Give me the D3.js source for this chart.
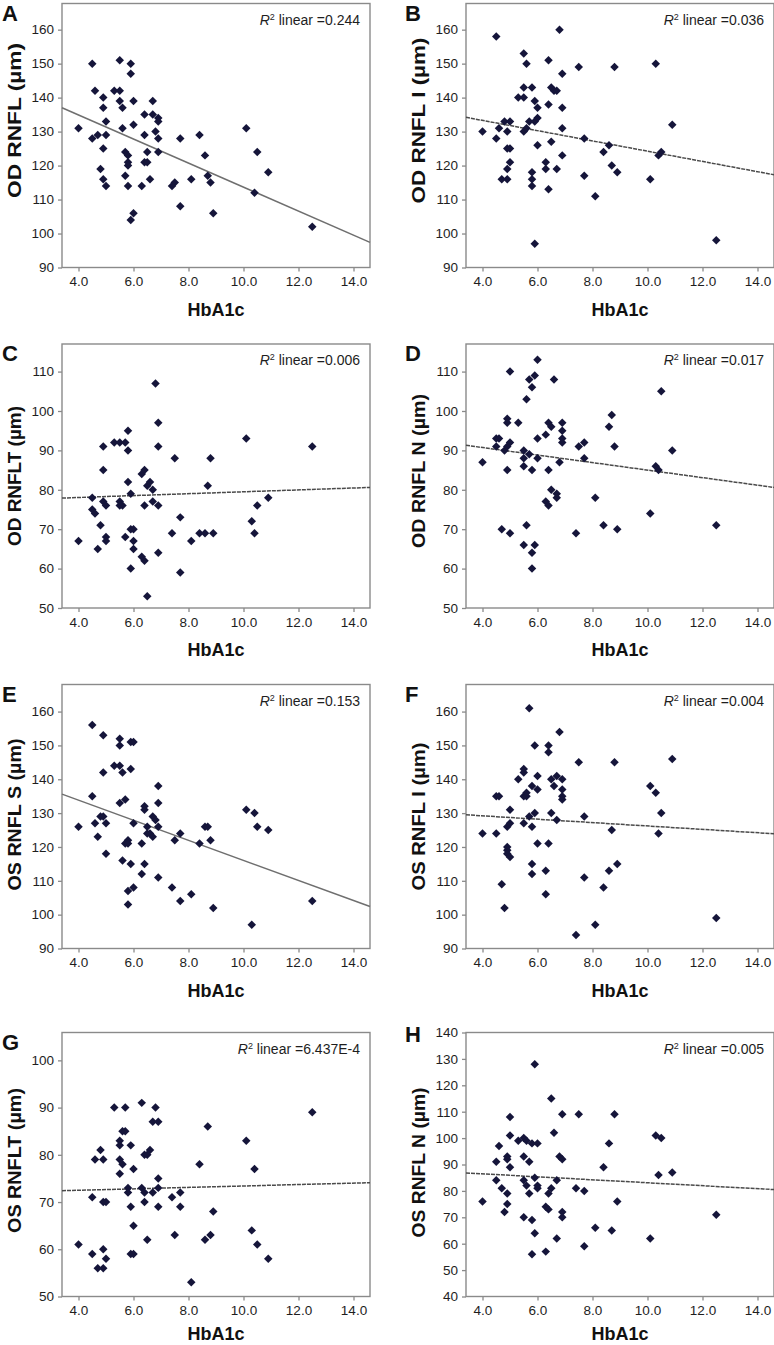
<!DOCTYPE html>
<html>
<head>
<meta charset="utf-8">
<script src="https://cdn.jsdelivr.net/npm/d3@7"></script>
<style>
  body { margin: 0; background: #fff; }
  svg { display: block; font-family: "Liberation Sans", Arial, sans-serif; }
</style>
</head>
<body>
<script>
// HbA1c vs RNFL thickness, one [HbA1c, thickness] pair per eye
const odRnfl = [[4.0,131],[4.5,150],[4.5,128],[4.6,142],[4.7,129],[4.8,119],[4.9,140],[4.9,137],[4.9,125],[4.9,116],[5.0,133],[5.0,129],[5.0,114],[5.3,142],[5.5,151],[5.5,142],[5.5,139],[5.6,137],[5.6,131],[5.7,124],[5.7,117],[5.8,123],[5.8,121],[5.8,120],[5.8,114],[5.9,150],[5.9,147],[5.9,104],[6.0,139],[6.0,132],[6.0,106],[6.3,114],[6.4,135],[6.4,129],[6.4,121],[6.5,121],[6.5,124],[6.6,116],[6.7,139],[6.7,135],[6.8,130],[6.9,134],[6.9,133],[6.9,128],[6.9,124],[7.4,114],[7.5,115],[7.7,128],[7.7,108],[8.1,116],[8.4,129],[8.6,123],[8.7,117],[8.8,115],[8.9,106],[10.1,131],[10.4,112],[10.5,124],[10.9,118],[12.5,102]];
const odRnflI = [[4.0,130],[4.5,158],[4.5,128],[4.6,131],[4.7,116],[4.8,133],[4.9,130],[4.9,125],[4.9,119],[4.9,116],[5.0,133],[5.0,125],[5.0,121],[5.3,140],[5.5,153],[5.5,143],[5.5,140],[5.5,130],[5.6,150],[5.6,131],[5.7,133],[5.8,143],[5.8,118],[5.8,116],[5.8,114],[5.9,139],[5.9,133],[5.9,97],[6.0,137],[6.0,134],[6.0,126],[6.3,121],[6.3,119],[6.4,151],[6.4,138],[6.4,113],[6.5,127],[6.5,143],[6.6,142],[6.7,142],[6.7,119],[6.8,160],[6.9,147],[6.9,137],[6.9,131],[6.9,123],[7.5,149],[7.7,128],[7.7,117],[8.1,111],[8.4,124],[8.6,126],[8.7,120],[8.8,149],[8.9,118],[10.1,116],[10.3,150],[10.4,123],[10.5,124],[10.9,132],[12.5,98]];
const odRnflT = [[4.0,67],[4.5,78],[4.5,75],[4.6,74],[4.7,65],[4.8,71],[4.9,91],[4.9,85],[4.9,77],[5.0,76],[5.0,68],[5.0,67],[5.3,92],[5.5,92],[5.7,92],[5.5,77],[5.6,76],[5.5,76],[5.7,68],[5.8,95],[5.8,90],[5.8,82],[5.9,79],[5.9,70],[5.9,60],[6.0,70],[6.0,67],[6.0,65],[6.3,84],[6.3,63],[6.4,85],[6.4,76],[6.4,62],[6.5,81],[6.5,53],[6.6,82],[6.7,80],[6.7,77],[6.8,107],[6.9,97],[6.9,91],[6.9,76],[6.9,64],[7.4,69],[7.5,88],[7.7,73],[7.7,59],[8.1,67],[8.4,69],[8.6,69],[8.7,81],[8.8,88],[8.9,69],[10.1,93],[10.3,72],[10.4,69],[10.5,76],[10.9,78],[12.5,91]];
const odRnflN = [[4.0,87],[4.5,93],[4.6,93],[4.5,91],[4.7,70],[4.8,90],[4.9,98],[4.9,97],[4.9,91],[4.9,85],[5.0,110],[5.0,92],[5.0,69],[5.3,97],[5.5,90],[5.5,88],[5.5,86],[5.5,66],[5.6,103],[5.6,71],[5.7,108],[5.7,89],[5.8,106],[5.8,85],[5.8,64],[5.8,60],[5.9,109],[5.9,66],[6.0,113],[6.0,93],[6.0,88],[6.3,94],[6.3,77],[6.4,97],[6.4,85],[6.4,76],[6.5,96],[6.5,80],[6.6,108],[6.7,79],[6.7,78],[6.8,87],[6.9,97],[6.9,95],[6.9,93],[6.9,92],[7.4,69],[7.5,91],[7.7,92],[7.7,88],[8.1,78],[8.4,71],[8.6,96],[8.7,99],[8.8,91],[8.9,70],[10.1,74],[10.3,86],[10.4,85],[10.5,105],[10.9,90],[12.5,71]];
const osRnflS = [[4.0,126],[4.5,156],[4.5,135],[4.6,127],[4.7,123],[4.8,129],[4.9,129],[4.9,153],[4.9,142],[5.0,127],[5.0,118],[5.3,144],[5.5,152],[5.5,150],[5.5,144],[5.5,133],[5.6,142],[5.6,116],[5.7,134],[5.7,121],[5.8,122],[5.8,121],[5.8,107],[5.8,103],[5.9,151],[5.9,143],[5.9,115],[6.0,151],[6.0,127],[6.0,108],[6.3,121],[6.3,112],[6.4,132],[6.4,131],[6.4,115],[6.5,126],[6.5,124],[6.6,124],[6.7,129],[6.7,123],[6.8,128],[6.9,138],[6.9,133],[6.9,126],[6.9,111],[7.4,108],[7.5,122],[7.7,124],[7.7,104],[8.1,106],[8.4,121],[8.6,126],[8.7,126],[8.8,122],[8.9,102],[10.1,131],[10.3,97],[10.4,130],[10.5,126],[10.9,125],[12.5,104]];
const osRnflI = [[4.0,124],[4.5,135],[4.6,135],[4.5,124],[4.7,109],[4.8,102],[4.9,120],[4.9,119],[4.9,118],[4.9,126],[5.0,131],[5.0,127],[5.0,117],[5.3,140],[5.5,143],[5.5,142],[5.5,135],[5.5,127],[5.6,136],[5.6,135],[5.7,161],[5.7,129],[5.8,138],[5.8,126],[5.8,115],[5.8,112],[5.9,150],[5.9,130],[6.0,141],[6.0,137],[6.0,121],[6.3,113],[6.3,106],[6.4,150],[6.4,148],[6.4,121],[6.5,140],[6.5,130],[6.6,138],[6.7,141],[6.7,128],[6.8,154],[6.9,140],[6.9,137],[6.9,135],[6.9,134],[7.4,94],[7.5,145],[7.7,129],[7.7,111],[8.1,97],[8.4,108],[8.6,113],[8.7,125],[8.8,145],[8.9,115],[10.1,138],[10.3,136],[10.4,124],[10.5,130],[10.9,146],[12.5,99]];
const osRnflT = [[4.0,61],[4.5,59],[4.5,71],[4.6,79],[4.7,56],[4.8,81],[4.9,79],[4.9,70],[4.9,60],[4.9,56],[5.0,70],[5.0,58],[5.3,90],[5.5,83],[5.5,82],[5.5,79],[5.5,76],[5.6,78],[5.6,85],[5.7,85],[5.7,90],[5.8,73],[5.8,72],[5.9,82],[5.9,69],[5.9,59],[6.0,59],[6.0,77],[6.0,65],[6.3,91],[6.3,73],[6.4,72],[6.4,80],[6.4,70],[6.5,80],[6.5,62],[6.6,81],[6.7,87],[6.7,72],[6.8,90],[6.9,87],[6.9,75],[6.9,73],[6.9,69],[7.4,71],[7.5,63],[7.7,72],[7.7,69],[8.1,53],[8.4,78],[8.6,62],[8.7,86],[8.8,63],[8.9,68],[10.1,83],[10.3,64],[10.4,77],[10.5,61],[10.9,58],[12.5,89]];
const osRnflN = [[4.0,76],[4.5,91],[4.5,84],[4.6,97],[4.7,81],[4.8,72],[4.9,93],[4.9,92],[4.9,79],[4.9,75],[5.0,108],[5.0,101],[5.0,89],[5.3,99],[5.5,100],[5.5,93],[5.5,84],[5.5,70],[5.6,99],[5.6,82],[5.7,91],[5.7,79],[5.8,98],[5.8,69],[5.8,56],[5.9,128],[5.9,85],[5.9,64],[6.0,98],[6.0,82],[6.0,81],[6.3,57],[6.3,74],[6.4,73],[6.4,79],[6.5,81],[6.5,115],[6.6,102],[6.7,84],[6.7,62],[6.8,93],[6.9,92],[6.9,109],[6.9,72],[6.9,70],[7.4,81],[7.5,109],[7.7,80],[7.7,59],[8.1,66],[8.4,89],[8.6,98],[8.7,65],[8.8,109],[8.9,76],[10.1,62],[10.3,101],[10.5,100],[10.4,86],[10.9,87],[12.5,71]];

const letters = ['A', 'B', 'C', 'D', 'E', 'F', 'G', 'H'];
const yTitles = ['OD RNFL (µm)', 'OD RNFL I (µm)', 'OD RNFLT (µm)', 'OD RNFL N (µm)',
  'OS RNFL S (µm)', 'OS RNFL I (µm)', 'OS RNFLT (µm)', 'OS RNFL N (µm)'];
const r2Values = ['0.244', '0.036', '0.006', '0.017', '0.153', '0.004', '6.437E-4', '0.005'];
// fitted line read at the left and right edge of the x domain
const fitStart = [137.0, 134.2, 77.9, 91.3, 135.6, 129.5, 72.4, 86.8];
const fitEnd = [97.4, 117.3, 80.6, 80.6, 102.4, 123.9, 74.1, 80.5];
const yDomains = [[90, 167.7], [90, 167.7], [50, 117], [50, 117], [90, 168], [90, 168], [50, 105.9], [40, 140]];
const yTickValues = [
  d3.range(90, 161, 10), d3.range(90, 161, 10), d3.range(50, 111, 10), d3.range(50, 111, 10),
  d3.range(90, 161, 10), d3.range(90, 161, 10), d3.range(50, 101, 10), d3.range(40, 141, 10)
];
const xTickValues = [4, 6, 8, 10, 12, 14];
const xDomain = [3.4, 14.6];
const seriesList = [odRnfl, odRnflI, odRnflT, odRnflN, osRnflS, osRnflI, osRnflT, osRnflN];

// layout
const colX = [62, 466];
const rowY = [3.5, 344, 684.5, 1032.5];
const pw = 308, ph = 264;
const titleLen = [155, 166, 140, 154, 152, 148, 145, 150];
const titleShift = [-15, -15, 0, -5, -2, 0, -4, -2];
const xTitleGap = [48, 48, 48, 43];
const solidFit = [true, false, false, false, true, false, false, false];

const svg = d3.select('body')
  .append('svg')
  .attr('width', 774)
  .attr('height', 1345);

const panels = letters.map((l, i) => ({
  letter: l,
  title: yTitles[i],
  r2: r2Values[i],
  data: seriesList[i],
  yDomain: yDomains[i],
  yTicks: yTickValues[i],
  fit: [fitStart[i], fitEnd[i]]
}));

panels.forEach((p, i) => {
  const col = i % 2, row = Math.floor(i / 2);
  const x0 = colX[col], y0 = rowY[row];
  const g = svg.append('g').attr('transform', `translate(${x0},${y0})`);

  const x = d3.scaleLinear().domain(xDomain).range([0, pw]);
  const y = d3.scaleLinear().domain(p.yDomain).range([ph, 0]);

  const xAxis = d3.axisBottom(x)
    .tickValues(xTickValues)
    .tickFormat(d3.format('.1f'))
    .tickSize(4)
    .tickPadding(5);
  const yAxis = d3.axisLeft(y)
    .tickValues(p.yTicks)
    .tickSize(4)
    .tickPadding(4);

  const gx = g.append('g').attr('transform', `translate(0,${ph})`).call(xAxis);
  const gy = g.append('g').call(yAxis);
  [gx, gy].forEach(a => {
    a.select('.domain').remove();
    a.selectAll('line').attr('stroke', '#8a8a8a').attr('stroke-width', 1.3);
    a.selectAll('text')
      .style('font-family', '"Liberation Sans", Arial, sans-serif')
      .style('font-size', '13.5px')
      .attr('fill', '#1e1e1e');
  });

  g.append('rect')
    .attr('width', pw)
    .attr('height', ph)
    .attr('fill', 'none')
    .attr('stroke', '#8a8a8a')
    .attr('stroke-width', 1.4);

  // fit line
  g.append('line')
    .attr('x1', x(xDomain[0]))
    .attr('y1', y(p.fit[0]))
    .attr('x2', x(xDomain[1]))
    .attr('y2', y(p.fit[1]))
    .attr('stroke', solidFit[i] ? '#6f6f6f' : '#4a4a4a')
    .attr('stroke-width', 1.5)
    .attr('stroke-dasharray', solidFit[i] ? null : '4,1');

  g.selectAll('path.pt')
    .data(p.data)
    .join('path')
    .attr('class', 'pt')
    .attr('d', d3.symbol(d3.symbolSquare, 36))
    .attr('transform', d => `translate(${x(d[0])},${y(d[1])}) rotate(45)`)
    .attr('fill', '#15153a');

  const r2 = g.append('text')
    .attr('x', pw - 10)
    .attr('y', 21)
    .attr('text-anchor', 'end')
    .style('font-size', '14px')
    .attr('fill', '#1e1e1e');
  r2.append('tspan').style('font-style', 'italic').text('R');
  r2.append('tspan').attr('dy', -5).style('font-size', '9px').text('2');
  r2.append('tspan').attr('dy', 5).text(` linear =${p.r2}`);

  g.append('text')
    .attr('x', pw / 2)
    .attr('y', ph + xTitleGap[row])
    .attr('text-anchor', 'middle')
    .style('font-size', '18px')
    .style('font-weight', 'bold')
    .attr('fill', '#111')
    .text('HbA1c');

  g.append('text')
    .attr('transform', `translate(-41,${ph / 2 + titleShift[i]}) rotate(-90)`)
    .attr('text-anchor', 'middle')
    .attr('textLength', titleLen[i])
    .attr('lengthAdjust', 'spacingAndGlyphs')
    .style('font-size', '18px')
    .style('font-weight', 'bold')
    .attr('fill', '#111')
    .text(p.title);

  svg.append('text')
    .attr('x', col === 0 ? 2 : 405)
    .attr('y', y0 + (p.letter === 'H' ? 9 : 17))
    .style('font-size', '22px')
    .style('font-weight', 'bold')
    .attr('fill', '#111')
    .text(p.letter);
});
</script>
</body>
</html>
